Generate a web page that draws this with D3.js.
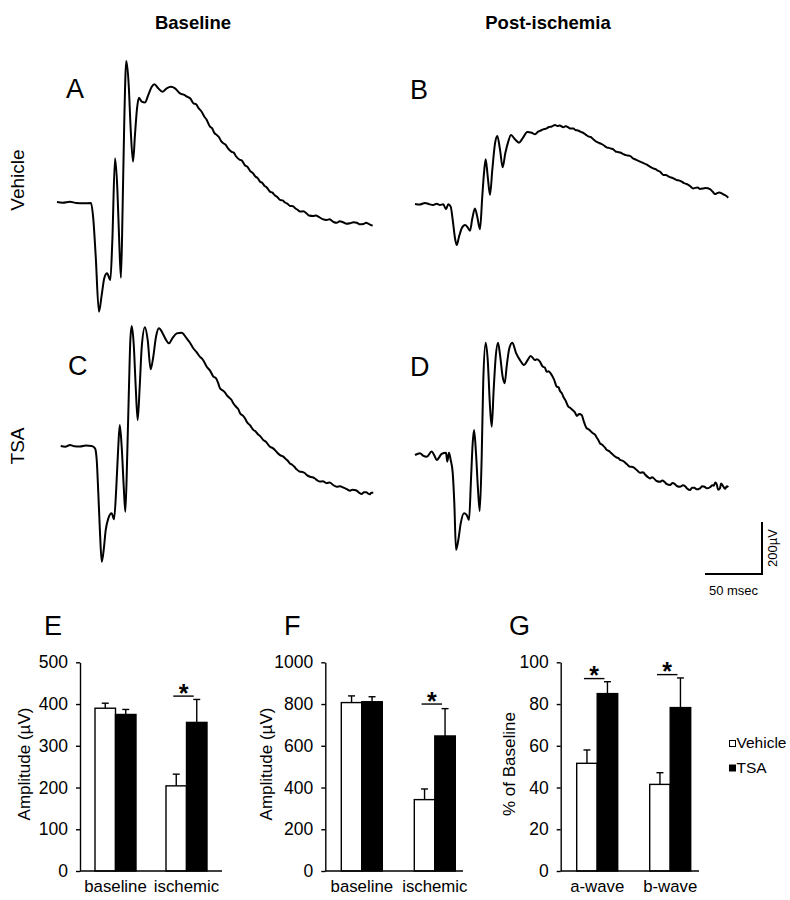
<!DOCTYPE html>
<html><head><meta charset="utf-8">
<script src="https://cdn.jsdelivr.net/npm/d3@7"></script>
<style>
html,body{margin:0;padding:0;background:#fff;}
text{font-family:"Liberation Sans",Arial,Helvetica,sans-serif;fill:#000;}
</style></head>
<body><svg id="fig" width="790" height="900"></svg>
<script>
// ---------- ERG traces: [time (ms), amplitude (µV) relative to pre-flash baseline] ----------
const traceA = [[0,0],[5,-3],[11.4,1],[17,-4],[23.1,-5],[29.8,-4],[31.8,-63],[33.9,-204],[36.8,-422],[39.2,-358],[41.5,-292],[43.9,-274],[46.8,-300],[48.5,-153],[50.9,168],[52.9,54],[54.6,-153],[56.1,-291],[57.6,-12],[59.0,309],[60.8,542],[62.9,450],[64.6,283],[66.7,155],[68.4,258],[70.2,360],[71.9,401],[74.3,386],[77.2,383],[80.1,412],[83.1,443],[85.4,453],[88.9,437],[92.4,424],[96.2,437],[100,443],[103.5,437],[107.9,418],[111.7,412],[114,405],[117,398],[119.6,380],[122,376],[124,362],[126.9,347],[129,330],[131,318],[134.2,290],[136,284],[138,266],[140.1,258],[142,250],[144,234],[145.9,226],[148,220],[150,206],[153.2,193],[155,190],[157,176],[160.5,162],[162,160],[165,140],[167,136],[169.3,120],[172,110],[174,98],[176,92],[178.1,78],[180,74],[182,62],[184,56],[186.8,40],[189,36],[191,26],[193,20],[195.6,8],[198,6],[200,-2],[202,-6],[204.4,-15],[207,-16],[209,-24],[211,-30],[213.2,-37],[216,-36],[219,-44],[221,-52],[224.8,-54],[227,-52],[230,-58],[233,-66],[236.6,-69],[239,-66],[241,-72],[243,-78],[245.4,-80],[248,-74],[251,-78],[254,-84],[257,-82],[260,-78],[263,-80],[266,-86],[268.7,-85],[271,-80],[273,-83],[275,-88],[276.9,-91]];
const traceB = [[0,0],[4,-2],[8.8,4],[12,0],[15.8,-4],[19,1],[21.9,-4],[24.8,-1],[27.2,-20],[29.2,-1],[31.3,-10],[33.1,-62],[35.1,-132],[36.6,-158],[38.6,-126],[41,-93],[43.9,-81],[46.2,-90],[48.2,-103],[50.3,-55],[52.6,-17],[54.6,-49],[57,-97],[59,28],[60.5,118],[62,172],[63.8,105],[65.8,35],[67.8,131],[70.2,233],[72.2,262],[74.6,208],[76.9,141],[79.2,195],[81.8,240],[84.2,265],[87.7,249],[91.2,236],[94.5,253],[98.5,277],[102.4,274],[105.3,268],[108,278],[110,282],[112.5,287],[115,290],[117.5,296],[120,298],[122.8,304],[125,300],[127,302],[130.1,295],[132,299],[134.2,296],[136,290],[138.9,290],[141,284],[143,283],[145,278],[147.6,274],[150,266],[152,260],[154,258],[156.4,249],[159,240],[161,236],[163,232],[165.2,227],[168,218],[170,216],[172,213],[173.9,210],[176,202],[178,200],[180,198],[182.7,192],[185,188],[188.6,185],[191,176],[193,172],[195,168],[197.4,163],[200,158],[203,152],[206,144],[209,137],[211,134],[213,128],[215,124],[217.8,112],[220,112],[223,104],[226,100],[229.6,92],[232,90],[234,86],[236,80],[238.3,77],[241,70],[244.1,60],[246,62],[248,63],[250,58],[252.9,60],[255,62],[258.8,57],[261,48],[263.2,38],[265,42],[267,44],[269,41],[271,36],[272,34],[274.8,24]];
const traceC = [[0,0],[4,-3],[8.2,4],[12,-1],[16.9,-2],[22,2],[27.2,0],[30.1,-9],[31.6,-54],[33,-182],[34.5,-336],[36,-445],[37.7,-400],[39.5,-323],[41.8,-278],[44.7,-259],[46.8,-282],[48.8,-157],[50.5,-3],[51.8,81],[53.5,-3],[55.3,-157],[56.7,-253],[58.4,-28],[59.9,228],[61.1,408],[62.3,462],[64,395],[65.8,228],[67.5,100],[69.3,228],[71.1,382],[73.9,457],[76.3,408],[78.9,295],[81.2,343],[83.6,420],[86.2,453],[89.5,433],[92.4,408],[95,395],[97.9,414],[101.8,433],[106.1,436],[110.5,414],[113,400],[116.3,376],[119,362],[122.2,343],[124,336],[126,322],[128.1,305],[131,290],[133.9,267],[136,262],[138,244],[139.7,222],[142,214],[144,206],[145.6,196],[148,185],[150,176],[151.4,164],[154,150],[156,140],[157.3,126],[160,116],[162,104],[163.2,93],[166,80],[168.9,62],[171,56],[173,45],[175,38],[177.7,23],[180,16],[183.6,-3],[186,-8],[188,-16],[190,-26],[192.4,-35],[195,-40],[197,-48],[199,-56],[201.1,-67],[203,-72],[205,-80],[207,-90],[209.9,-99],[212,-100],[214,-104],[216,-112],[218.7,-118],[221,-120],[223,-125],[225,-132],[227.5,-137],[230,-136],[233.3,-143],[236,-140],[239,-150],[242.1,-157],[245,-155],[248,-160],[251,-166],[253.8,-172],[256,-168],[259,-170],[262,-180],[264,-185],[266,-178],[268,-178],[270,-184],[271,-186],[272.5,-180],[274.2,-180]];
const traceD = [[0,0],[4.4,7],[7,-2],[10.3,-7],[14.6,13],[17,-2],[19,-19],[23.4,4],[27.2,9],[28.3,-26],[29.8,9],[31.3,-19],[33.1,-70],[34.5,-186],[36,-365],[38,-327],[40.1,-263],[43,-224],[45.4,-231],[47.4,-250],[49.1,-96],[50.6,45],[51.8,96],[53.5,7],[55.3,-135],[56.8,-215],[58.5,-7],[59.9,288],[62,432],[63.8,365],[65.8,186],[67.3,109],[69,250],[70.8,378],[72.8,432],[74.6,385],[76.9,301],[78.7,276],[80.4,340],[82.7,410],[85.4,432],[88.6,393],[92.1,365],[95.6,346],[98.5,363],[101.5,381],[105.3,365],[107,368],[109.6,359],[112,340],[114,336],[115.5,320],[117,322],[119.9,308],[122,290],[124.3,263],[126,260],[127,248],[129,236],[130.1,224],[132,210],[134.5,186],[136,182],[137,178],[139,170],[140.4,163],[142,150],[144,158],[146.2,154],[148,130],[150.6,103],[152,100],[154,92],[156.4,83],[158,78],[159,70],[161,56],[162.3,45],[164,40],[165,36],[167,26],[168.2,19],[170,16],[171,12],[172.5,6],[173.9,0],[175.5,-6],[177,-10],[178.5,-12],[179.8,-19],[182,-22],[184,-28],[186,-36],[188.6,-45],[191,-46],[193,-52],[195,-60],[197.4,-68],[200,-66],[202,-76],[204,-84],[206.1,-90],[208,-86],[210,-92],[212,-100],[214.9,-103],[217,-98],[219,-104],[221,-112],[223.7,-115],[226,-108],[228,-112],[230,-120],[232.5,-122],[235,-116],[237,-120],[239,-130],[241.2,-135],[243,-126],[245,-126],[247,-132],[250,-128],[252,-120],[254,-122],[256,-128],[258.8,-124],[261,-116],[262,-118],[263.5,-106],[264.6,-112],[266,-134],[267.5,-128],[268.5,-110],[270,-118],[272,-130],[273.5,-120],[274.8,-124]];

// ---------- Bar chart data ----------
const series = ["Vehicle","TSA"];
const catsEF = ["baseline","ischemic"];
const catsG = ["a-wave","b-wave"];
const aWaveMean = {Vehicle:[390,204], TSA:[375,356]};
const aWaveErr  = {Vehicle:[12,28],  TSA:[12,55]};
const bWaveMean = {Vehicle:[807,342], TSA:[811,647]};
const bWaveErr  = {Vehicle:[32,51],  TSA:[24,131]};
const pctMean   = {Vehicle:[51.6,41.5], TSA:[85,78.3]};
const pctErr    = {Vehicle:[6.4,5.6],  TSA:[5.7,14.2]};
const ticksE = [0,100,200,300,400,500];
const ticksF = [0,200,400,600,800,1000];
const ticksG = [0,20,40,60,80,100];
const sigE = [{cat:"ischemic", y:419}];
const sigF = [{cat:"ischemic", y:800}];
const sigG = [{cat:"a-wave", y:92.2},{cat:"b-wave", y:94.1}];

const svg = d3.select("#fig");

// ---------- Headers ----------
svg.append("text").attr("x",193).attr("y",29).attr("text-anchor","middle")
  .style("font-weight","bold").style("font-size","18.5px").text("Baseline");
svg.append("text").attr("x",548).attr("y",29).attr("text-anchor","middle")
  .style("font-weight","bold").style("font-size","18.5px").text("Post-ischemia");
svg.append("text").attr("transform","translate(24,180) rotate(-90)").attr("text-anchor","middle")
  .style("font-size","19px").text("Vehicle");
svg.append("text").attr("transform","translate(24,446) rotate(-90)").attr("text-anchor","middle")
  .style("font-size","19px").text("TSA");

// ---------- Trace scales (50 ms = 57 px, 200 µV = 52 px) ----------
const tScale = d3.scaleLinear().domain([0,50]).range([0,57]);
const vScale = d3.scaleLinear().domain([0,200]).range([0,-52]);
const line = d3.line().x(d=>tScale(d[0])).y(d=>vScale(d[1])).curve(d3.curveMonotoneX);

const traces = [
  {data:traceA, ox:57,   oy:202, label:"A", lx:66,  ly:98},
  {data:traceB, ox:415,  oy:204, label:"B", lx:410, ly:99},
  {data:traceC, ox:60.7, oy:446, label:"C", lx:68,  ly:375},
  {data:traceD, ox:415,  oy:455, label:"D", lx:410, ly:376}
];
traces.forEach(t=>{
  svg.append("text").attr("x",t.lx).attr("y",t.ly).style("font-size","27px").text(t.label);
  svg.append("g").attr("transform",`translate(${t.ox},${t.oy})`)
    .append("path").datum(t.data).attr("d",line)
    .attr("fill","none").attr("stroke","#000").attr("stroke-width",2)
    .attr("stroke-linejoin","round");
});

// ---------- Scale bar ----------
const sb = svg.append("g").attr("transform","translate(762,574)");
sb.append("line").attr("x1",0).attr("y1",0).attr("x2",0).attr("y2",vScale(200))
  .attr("stroke","#000").attr("stroke-width",2);
sb.append("line").attr("x1",-tScale(50)).attr("y1",0).attr("x2",1).attr("y2",0)
  .attr("stroke","#000").attr("stroke-width",2);
sb.append("text").attr("transform",`translate(15,${vScale(100)}) rotate(-90)`)
  .attr("text-anchor","middle").style("font-size","13px").text("200µV");
sb.append("text").attr("x",-tScale(25)).attr("y",21).attr("text-anchor","middle")
  .style("font-size","13px").text("50 msec");

// ---------- Bar charts ----------
const yTop = 662.3, yBot = 871;
function barChart(o){
  const g = svg.append("g");
  const y = d3.scaleLinear().domain([0,o.max]).range([yBot,yTop]);
  const x0 = d3.scaleBand().domain(o.cats).range([o.ax, o.ax+2*o.step]);
  const barW = 20.5;
  const x1 = d3.scaleBand().domain(series).range([o.step/2-barW, o.step/2+barW]);
  const rows = [];
  o.cats.forEach((c,i)=>series.forEach(s=>rows.push({c, s, v:o.mean[s][i], e:o.err[s][i]})));
  const eb = g.append("g").attr("stroke","#000").attr("stroke-width",1.4);
  rows.forEach(r=>{
    const cx = x0(r.c)+x1(r.s)+barW/2;
    eb.append("line").attr("x1",cx).attr("x2",cx).attr("y1",y(r.v)).attr("y2",y(r.v+r.e));
    eb.append("line").attr("x1",cx-3.5).attr("x2",cx+3.5).attr("y1",y(r.v+r.e)).attr("y2",y(r.v+r.e));
  });
  g.selectAll("rect.bar").data(rows).join("rect").attr("class","bar")
    .attr("x",d=>x0(d.c)+x1(d.s)).attr("width",barW)
    .attr("y",d=>y(d.v)).attr("height",d=>yBot-y(d.v))
    .attr("fill",d=>d.s==="TSA"?"#000":"#fff").attr("stroke","#000").attr("stroke-width",1.4);
  const ya = g.append("g").attr("transform",`translate(${o.ax},0)`)
    .call(d3.axisLeft(y).tickValues(o.ticks).tickFormat(d3.format("d")).tickSize(4).tickSizeOuter(0).tickPadding(8));
  ya.selectAll("text").style("font-size","17.5px").style("font-family",'"Liberation Sans",Arial,sans-serif');
  ya.selectAll("line,path").attr("stroke","#000").attr("stroke-width",1.4);
  g.append("line").attr("x1",o.ax).attr("x2",o.xEnd).attr("y1",yBot).attr("y2",yBot)
    .attr("stroke","#000").attr("stroke-width",1.4);
  const xa = g.append("g").attr("transform",`translate(0,${yBot})`)
    .call(d3.axisBottom(x0).tickSize(0).tickPadding(9));
  xa.select(".domain").remove();
  xa.selectAll("text").style("font-size","16.8px").style("font-family",'"Liberation Sans",Arial,sans-serif');
  o.sig.forEach(s=>{
    const xa1 = x0(s.cat)+x1("Vehicle")+barW/2-3, xa2 = x0(s.cat)+x1("TSA")+barW/2-3;
    g.append("line").attr("x1",xa1).attr("x2",xa2).attr("y1",y(s.y)).attr("y2",y(s.y))
      .attr("stroke","#000").attr("stroke-width",1.4);
    g.append("text").attr("x",(xa1+xa2)/2).attr("y",y(s.y)+5.5).attr("text-anchor","middle")
      .style("font-size","25px").style("font-weight","bold").text("*");
  });
  g.append("text").attr("x",o.lx).attr("y",635).style("font-size","27px").text(o.letter);
  g.append("text").attr("transform",`translate(${o.ylx},764) rotate(-90)`).attr("text-anchor","middle")
    .style("font-size","17px").text(o.ylabel);
}
barChart({cats:catsEF, mean:aWaveMean, err:aWaveErr, max:500, ticks:ticksE, ax:80, step:71, xEnd:222,
  sig:sigE, letter:"E", lx:44, ylabel:"Amplitude (µV)", ylx:30});
barChart({cats:catsEF, mean:bWaveMean, err:bWaveErr, max:1000, ticks:ticksF, ax:325.3, step:73, xEnd:463,
  sig:sigF, letter:"F", lx:284, ylabel:"Amplitude (µV)", ylx:272});
barChart({cats:catsG, mean:pctMean, err:pctErr, max:100, ticks:ticksG, ax:560.7, step:73, xEnd:699,
  sig:sigG, letter:"G", lx:509, ylabel:"% of Baseline", ylx:515});

// ---------- Legend ----------
const leg = svg.append("g");
series.forEach((s,i)=>{
  const yy = 740.5 + i*24.5;
  leg.append("rect").attr("x",729.5).attr("y",yy).attr("width",6).attr("height",6)
    .attr("fill",s==="TSA"?"#000":"#fff").attr("stroke","#000").attr("stroke-width",1);
  leg.append("text").attr("x",736.5).attr("y",yy+7.5).style("font-size","15.5px").text(s);
});
</script></body></html>
